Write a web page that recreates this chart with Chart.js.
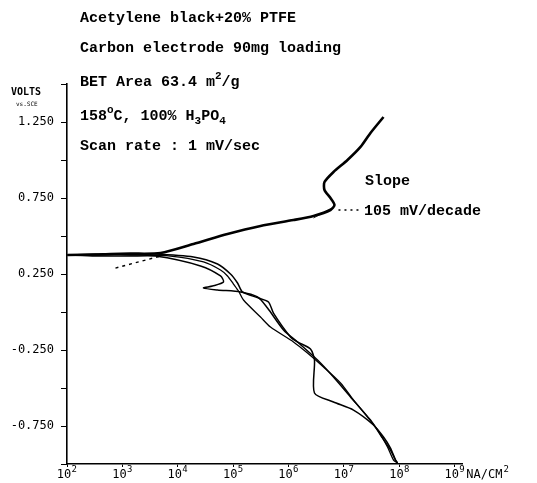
<!DOCTYPE html>
<html><head><meta charset="utf-8">
<script src="https://cdn.jsdelivr.net/npm/chart.js@4/dist/chart.umd.min.js"></script>
<style>html,body{margin:0;padding:0;background:#fff}#wrap{width:537px;height:483px;position:relative}</style>
</head><body><div id="wrap"><canvas id="c" width="537" height="483"></canvas></div>
<script>
// ---- data (x = log10 current density, nA/cm^2 ; y = potential, V vs. SCE) ----
const xTickExponents = [2, 3, 4, 5, 6, 7, 8, 9];
const yTickLabels = { "1.25": "1.250", "0.75": "0.750", "0.25": "0.250", "-0.25": "-0.250", "-0.75": "-0.750" };

const anodicLogI = [2.009, 2.514, 2.785, 3.146, 3.688, 4.283, 4.897, 5.493, 6.088, 6.449, 6.756, 6.828, 6.756, 6.648, 6.648, 6.810, 7.063, 7.298, 7.478, 7.713];
const anodicV    = [0.375, 0.378, 0.382, 0.384, 0.388, 0.447, 0.513, 0.566, 0.605, 0.632, 0.671, 0.704, 0.750, 0.803, 0.855, 0.921, 1.000, 1.086, 1.178, 1.283];

const cath1LogI = [2.009, 2.514, 3.146, 3.507, 4.283, 4.717, 4.951, 5.078, 5.168, 5.457, 5.637, 5.727, 6.034, 6.160, 6.395, 6.467, 6.467, 6.810, 7.171, 7.532, 7.713, 7.839, 7.930, 7.966];
const cath1V    = [0.375, 0.375, 0.382, 0.382, 0.362, 0.316, 0.250, 0.191, 0.132, 0.092, 0.066, -0.007, -0.164, -0.197, -0.243, -0.316, -0.533, -0.592, -0.645, -0.743, -0.822, -0.895, -0.974, -0.993];

const cath2LogI = [2.009, 2.514, 3.146, 3.597, 4.410, 4.771, 4.825, 4.626, 4.464, 4.717, 5.132, 5.439, 5.619, 5.908, 6.160, 6.522, 6.810, 7.117, 7.478, 7.659, 7.839, 7.930, 7.966];
const cath2V    = [0.375, 0.368, 0.368, 0.368, 0.303, 0.237, 0.197, 0.171, 0.158, 0.145, 0.132, 0.099, 0.026, -0.118, -0.197, -0.316, -0.428, -0.559, -0.711, -0.809, -0.908, -0.974, -0.993];

const cath3LogI = [2.009, 2.605, 3.146, 3.868, 4.464, 4.771, 4.897, 5.005, 5.096, 5.186, 5.493, 5.673, 6.088, 6.341, 6.630, 6.937, 7.171, 7.424, 7.605, 7.785, 7.894, 7.966];
const cath3V    = [0.375, 0.382, 0.375, 0.368, 0.329, 0.276, 0.237, 0.184, 0.138, 0.079, -0.033, -0.099, -0.197, -0.270, -0.362, -0.467, -0.579, -0.691, -0.776, -0.888, -0.974, -0.993];

const tafelLowLogI  = [2.875, 3.688];
const tafelLowV     = [0.289, 0.368];
const tafelKneeLogI = [6.449, 6.810];
const tafelKneeV    = [0.618, 0.691];
const pointerLogI   = [6.900, 7.300];
const pointerV      = [0.671, 0.671];

// ---- build ----
const zip = (xs, ys) => xs.map((x, i) => ({ x: x, y: ys[i] }));
function lineDs(xs, ys, w, dash, tension) {
  return { data: zip(xs, ys), showLine: true, borderColor: '#000', backgroundColor: '#000',
           borderWidth: w, borderDash: dash || [], pointRadius: 0, tension: tension || 0, fill: false };
}
const datasets = [
  lineDs(cath1LogI, cath1V, 1.5, null, 0.25),
  lineDs(cath2LogI, cath2V, 1.5, null, 0.25),
  lineDs(cath3LogI, cath3V, 1.3, null, 0.25),
  lineDs(anodicLogI, anodicV, 2.6, null, 0.25),
  lineDs(tafelLowLogI, tafelLowV, 1.4, [3, 4]),
  lineDs(tafelKneeLogI, tafelKneeV, 0.8),
  lineDs(pointerLogI, pointerV, 1.4, [2, 4])
];

const TXT = 'bold 15px "Liberation Mono"';
function drawRich(ctx, x, y, parts) {
  ctx.textBaseline = 'middle';
  ctx.textAlign = 'left';
  for (const p of parts) {
    let dy = 0;
    if (p.s === 'sup') { ctx.font = 'bold 11px "Liberation Mono"'; dy = -6; }
    else if (p.s === 'sub') { ctx.font = 'bold 11px "Liberation Mono"'; dy = 5; }
    else ctx.font = TXT;
    ctx.fillText(p.t, x, y + dy);
    x += ctx.measureText(p.t).width;
  }
}

const textPlugin = {
  id: 'texts',
  afterDraw(chart) {
    const ctx = chart.ctx;
    ctx.save();
    ctx.fillStyle = '#000';
    drawRich(ctx, 80, 18, [{ t: 'Acetylene black+20% PTFE' }]);
    drawRich(ctx, 80, 48, [{ t: 'Carbon electrode 90mg loading' }]);
    drawRich(ctx, 80, 82, [{ t: 'BET Area 63.4 m' }, { t: '2', s: 'sup' }, { t: '/g' }]);
    drawRich(ctx, 80, 116, [{ t: '158' }, { t: 'o', s: 'sup' }, { t: 'C, 100% H' }, { t: '3', s: 'sub' }, { t: 'PO' }, { t: '4', s: 'sub' }]);
    drawRich(ctx, 80, 146, [{ t: 'Scan rate : 1 mV/sec' }]);
    drawRich(ctx, 365, 181, [{ t: 'Slope' }]);
    drawRich(ctx, 364, 211, [{ t: '105 mV/decade' }]);
    // decade exponents on x tick labels
    const xs = chart.scales.x;
    ctx.textAlign = 'left';
    ctx.textBaseline = 'middle';
    ctx.font = '9px "DejaVu Sans Mono"';
    let lastX = 0;
    for (const e of xTickExponents) {
      const px = xs.getPixelForValue(e) - 3 + 7.5;
      ctx.fillText(String(e), px, 470);
      lastX = px;
    }
    ctx.font = '12px "DejaVu Sans Mono"';
    ctx.fillText('NA/CM', lastX + 7, 475);
    ctx.font = '9px "DejaVu Sans Mono"';
    ctx.fillText('2', lastX + 7 + ctx.measureText('NA/CM').width * 12 / 9 + 1, 470);
    // axis unit labels
    ctx.font = 'bold 10px "DejaVu Sans Mono"';
    ctx.fillText('VOLTS', 11, 92);
    ctx.font = '6px "DejaVu Sans Mono"';
    ctx.fillText('vs.SCE', 16, 104);
    ctx.restore();
  }
};

new Chart(document.getElementById('c'), {
  type: 'scatter',
  data: { datasets: datasets },
  options: {
    responsive: false, animation: false, devicePixelRatio: 1,
    layout: { padding: { top: 84, right: 75, left: 0, bottom: 0 } },
    plugins: { legend: { display: false }, tooltip: { enabled: false } },
    scales: {
      x: {
        type: 'linear', min: 2, max: 9.13,
        afterBuildTicks: s => { s.ticks = xTickExponents.map(v => ({ value: v })); },
        afterFit: s => { s.height = 19; },
        ticks: { autoSkip: false, maxRotation: 0, padding: 1, labelOffset: -3, color: '#000',
                 font: { family: 'DejaVu Sans Mono', size: 12 },
                 callback: v => '10' },
        grid: { drawOnChartArea: false, drawTicks: true, tickLength: 3, color: '#000', lineWidth: 1 },
        border: { display: true, color: '#000', width: 1.6 }
      },
      y: {
        type: 'linear', min: -1, max: 1.5,
        afterBuildTicks: s => { const t = []; for (let k = 0; k <= 10; k++) t.push({ value: -1 + 0.25 * k }); s.ticks = t; },
        afterFit: s => { s.width = 67; },
        ticks: { autoSkip: false, padding: 7, color: '#000',
                 font: { family: 'DejaVu Sans Mono', size: 12 },
                 callback: v => yTickLabels[String(v)] || '' },
        grid: { drawOnChartArea: false, drawTicks: true, tickLength: 6, color: '#000', lineWidth: 1 },
        border: { display: true, color: '#000', width: 1.6 }
      }
    }
  },
  plugins: [textPlugin]
});
</script>
</body></html>
